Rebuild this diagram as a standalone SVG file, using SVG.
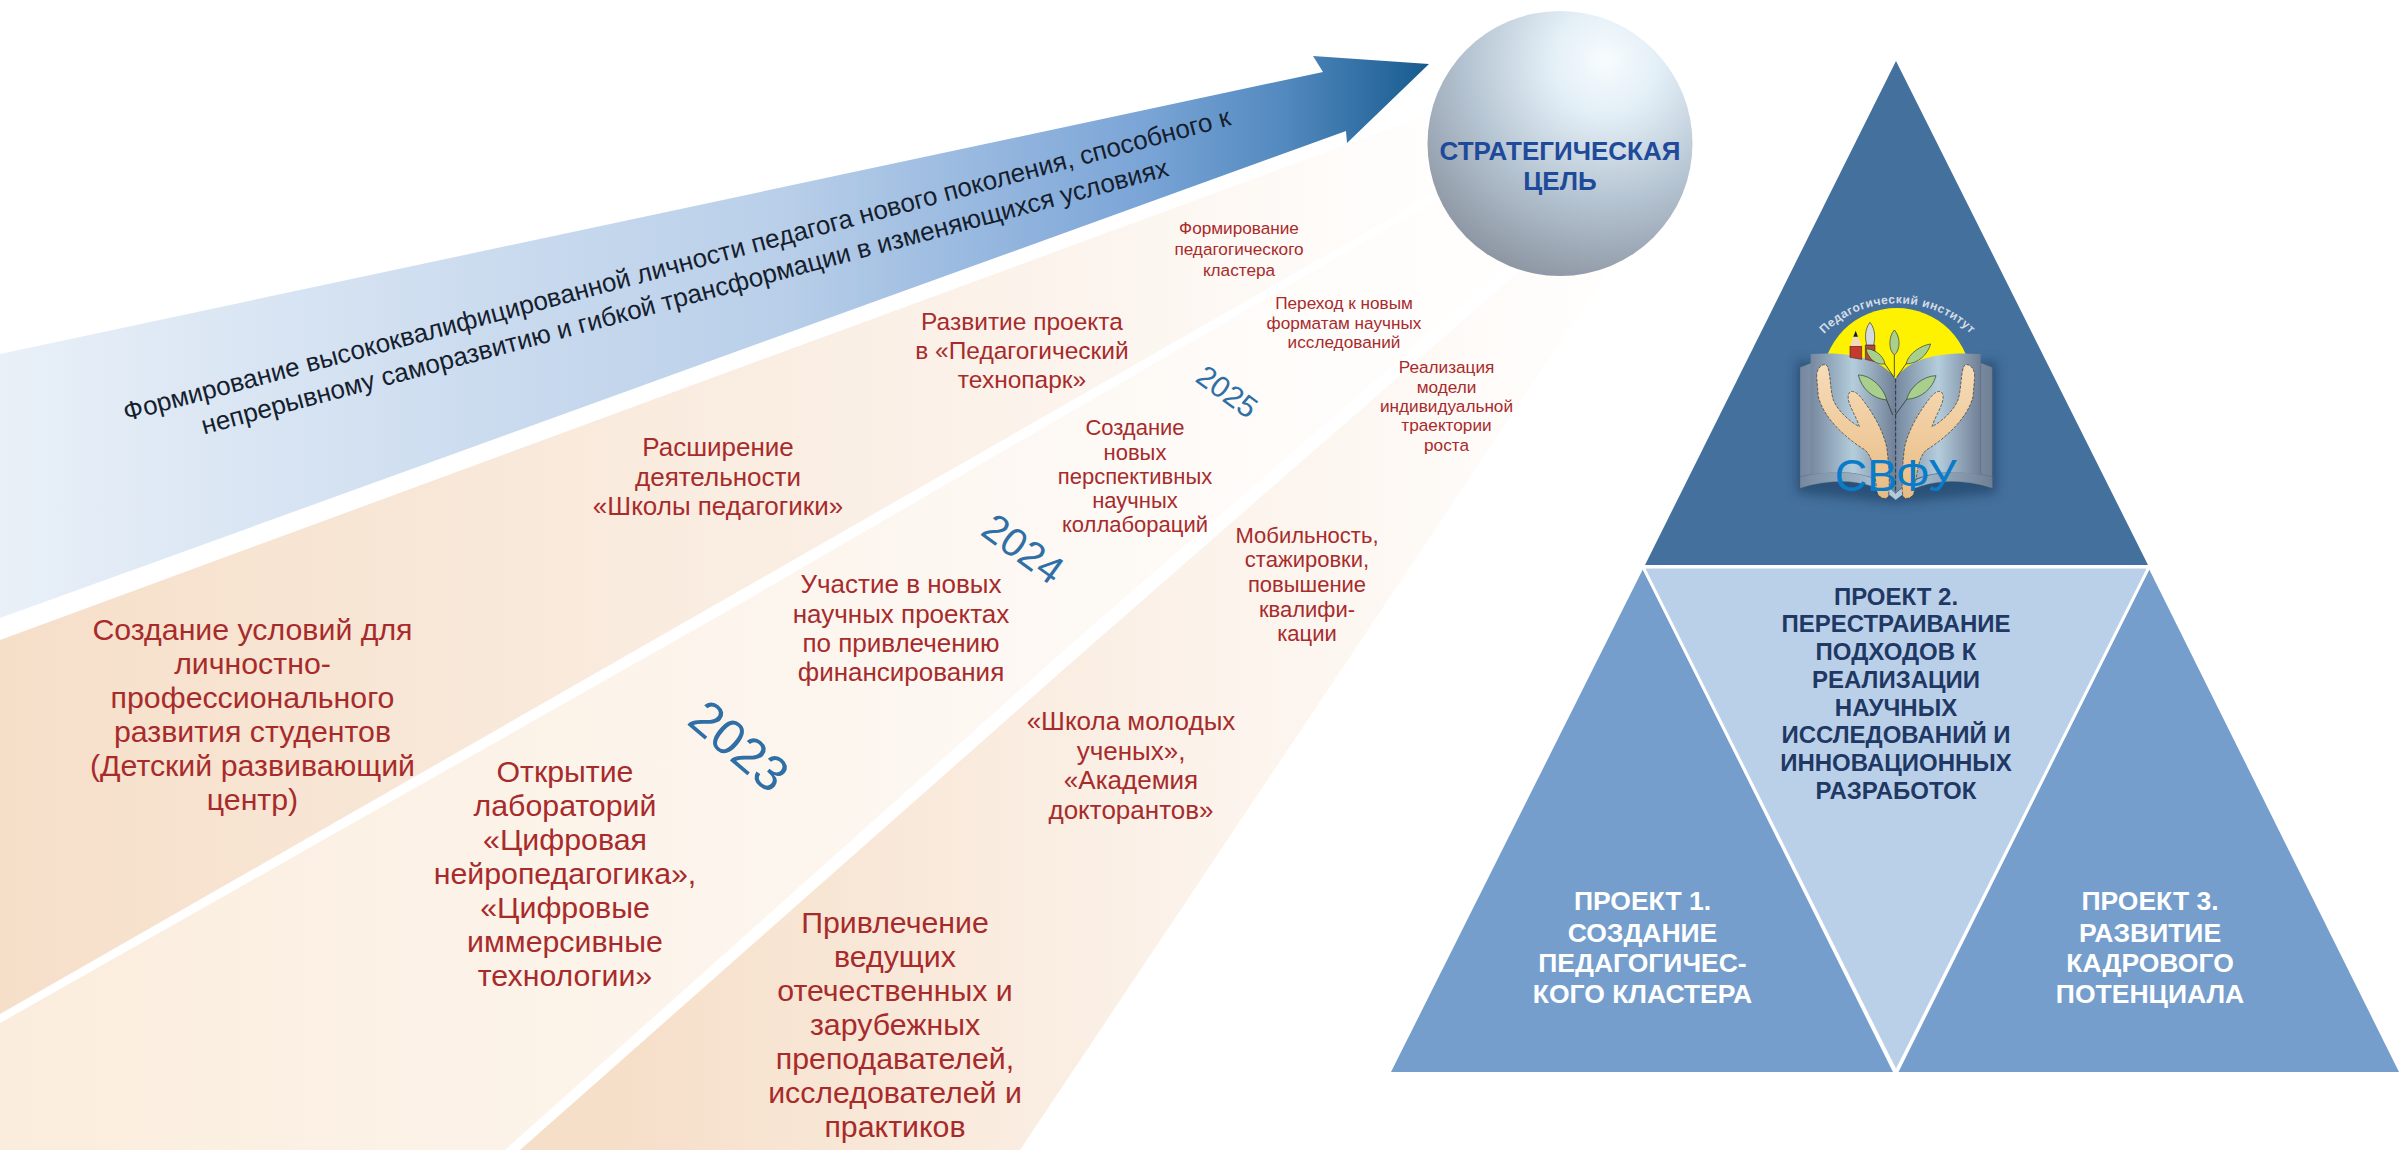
<svg xmlns="http://www.w3.org/2000/svg" width="2399" height="1150" viewBox="0 0 2399 1150">
<style>
text{font-family:"Liberation Sans",Arial,sans-serif;text-anchor:middle}
.r{fill:#a82b2c}
.y{fill:#2f6fa6}
.m{fill:#1f3864;font-weight:700;font-size:24px}
.w{fill:#fff;font-weight:700;font-size:26.5px}
.a{fill:#15202e;font-size:26px}
.leaf{fill:#a9cf8c;stroke:#2e3a33;stroke-width:2}
.hand{fill:url(#hand);stroke:#333;stroke-width:2;stroke-dasharray:9 4}
</style>
<defs>
<linearGradient id="blue" gradientUnits="userSpaceOnUse" x1="0" y1="0" x2="1429" y2="0">
<stop offset="0" stop-color="#e9f0f8"/><stop offset=".55" stop-color="#b9cfe9"/><stop offset=".8" stop-color="#7ba5d7"/><stop offset=".9" stop-color="#5289bf"/><stop offset="1" stop-color="#175b8e"/>
</linearGradient>
<linearGradient id="b1" gradientUnits="userSpaceOnUse" x1="0" y1="0" x2="1430" y2="0">
<stop offset="0" stop-color="#f6dfc9"/><stop offset=".7" stop-color="#fbf2ea"/><stop offset="1" stop-color="#fffefd"/>
</linearGradient>
<linearGradient id="b2" gradientUnits="userSpaceOnUse" x1="0" y1="0" x2="1450" y2="0">
<stop offset="0" stop-color="#fbeddd"/><stop offset=".7" stop-color="#fdf8f3"/><stop offset="1" stop-color="#fffefd"/>
</linearGradient>
<linearGradient id="b3" gradientUnits="userSpaceOnUse" x1="520" y1="0" x2="1580" y2="0">
<stop offset=".1" stop-color="#f6dfc9"/><stop offset=".6" stop-color="#fbf1e8"/><stop offset="1" stop-color="#fffefd"/>
</linearGradient>
<radialGradient id="sph" gradientUnits="userSpaceOnUse" cx="1605" cy="65" r="255" fx="1605" fy="60">
<stop offset="0" stop-color="#f8fcfe"/><stop offset=".22" stop-color="#e2eef6"/><stop offset=".55" stop-color="#b4c3d1"/><stop offset="1" stop-color="#7f8592"/>
</radialGradient>
<linearGradient id="page" x1="0" y1="0" x2="1" y2="0">
<stop offset="0" stop-color="#76889f"/><stop offset=".5" stop-color="#b4cddc"/><stop offset="1" stop-color="#707f95"/>
</linearGradient>
<linearGradient id="hand" x1="0" y1="0" x2="0" y2="1">
<stop offset="0" stop-color="#f6dcb8"/><stop offset="1" stop-color="#e9bb83"/>
</linearGradient>
<filter id="blur" x="-20%" y="-20%" width="140%" height="140%"><feGaussianBlur stdDeviation="16"/></filter>
<clipPath id="sun"><path d="M200 60H740V222L467 296 200 222Z"/></clipPath>
<path id="arc" d="M245 170A309 309 0 0 1 700 170"/>
<g id="lh">
<path class="hand" d="M230 290C228 265 250 245 262 258C272 280 270 330 280 360C295 395 330 425 358 440C350 410 320 370 325 345C330 325 350 335 365 355C395 395 425 440 440 500C448 560 450 620 445 650C435 660 420 655 412 640C405 590 400 530 375 510C310 470 250 410 235 350Z"/>
</g>
</defs>
<rect width="2399" height="1150" fill="#fff"/>

<g id="bands">
<polygon fill="url(#b1)" points="0,640 1424,116 1440,190 0,1014"/>
<polygon fill="url(#b2)" points="0,1023 738,605 1445,195 1520,255 1070,645 505,1150 0,1150"/>
<polygon fill="url(#b3)" points="520,1150 1080,655 1530,262 1612,265 1020,1150"/>
</g>

<g id="arrow"><polygon fill="url(#blue)" points="0,354 1323,72 1313,56 1429,64 1347,143 1346,131 0,618"/></g>

<g id="goal-text">
<text class="a" transform="translate(679,273) rotate(-15)">Формирование высококвалифицированной личности педагога нового поколения, способного к</text>
<text class="a" transform="translate(687,305) rotate(-15)">непрерывному саморазвитию и гибкой трансформации в изменяющихся условиях</text>
</g>

<g id="sphere">
<circle cx="1560" cy="143.5" r="132.5" fill="url(#sph)"/>
<text x="1560" y="160" font-size="26" font-weight="700" fill="#1f4a9a">СТРАТЕГИЧЕСКАЯ</text>
<text x="1560" y="189.5" font-size="26" font-weight="700" fill="#1f4a9a">ЦЕЛЬ</text>
</g>

<g id="years">
<text class="y" font-size="50" transform="translate(728,759) rotate(40)">2023</text>
<text class="y" font-size="40" transform="translate(1015,560) rotate(36)">2024</text>
<text class="y" font-size="30" transform="translate(1221,400) rotate(36)">2025</text>
</g>

<g id="col-2023" class="r" font-size="30.3">
<text x="252.5" y="640">Создание условий для</text><text x="252.5" y="674">личностно-</text><text x="252.5" y="708">профессионального</text><text x="252.5" y="742">развития студентов</text><text x="252.5" y="776">(Детский развивающий</text><text x="252.5" y="810">центр)</text>
<text x="565" y="782">Открытие</text><text x="565" y="816">лабораторий</text><text x="565" y="850">«Цифровая</text><text x="565" y="884">нейропедагогика»,</text><text x="565" y="918">«Цифровые</text><text x="565" y="952">иммерсивные</text><text x="565" y="986">технологии»</text>
<text x="895" y="933">Привлечение</text><text x="895" y="967">ведущих</text><text x="895" y="1001">отечественных и</text><text x="895" y="1035">зарубежных</text><text x="895" y="1069">преподавателей,</text><text x="895" y="1103">исследователей и</text><text x="895" y="1137">практиков</text>
</g>
<g id="col-2024" class="r" font-size="26">
<text x="718" y="456">Расширение</text><text x="718" y="486">деятельности</text><text x="718" y="515">«Школы педагогики»</text>
<text x="901" y="593">Участие в новых</text><text x="901" y="623">научных проектах</text><text x="901" y="652">по привлечению</text><text x="901" y="681">финансирования</text>
<text x="1131" y="730">«Школа молодых</text><text x="1131" y="759.5">ученых»,</text><text x="1131" y="789">«Академия</text><text x="1131" y="818.5">докторантов»</text>
</g>
<g id="col-2025a" class="r" font-size="22">
<text x="1022" y="330" font-size="24.5">Развитие проекта</text><text x="1022" y="359" font-size="24.5">в «Педагогический</text><text x="1022" y="388" font-size="24.5">технопарк»</text>
<text x="1135" y="435">Создание</text><text x="1135" y="460">новых</text><text x="1135" y="484">перспективных</text><text x="1135" y="508">научных</text><text x="1135" y="532">коллабораций</text>
<text x="1307" y="543">Мобильность,</text><text x="1307" y="567">стажировки,</text><text x="1307" y="592">повышение</text><text x="1307" y="616.5">квалифи-</text><text x="1307" y="640.5">кации</text>
</g>
<g id="col-2025b" class="r" font-size="17.2">
<text x="1239" y="234">Формирование</text><text x="1239" y="255">педагогического</text><text x="1239" y="276">кластера</text>
<text x="1344" y="309">Переход к новым</text><text x="1344" y="329">форматам научных</text><text x="1344" y="348">исследований</text>
<text x="1446.5" y="373">Реализация</text><text x="1446.5" y="392.6">модели</text><text x="1446.5" y="411.7">индивидуальной</text><text x="1446.5" y="431">траектории</text><text x="1446.5" y="450.7">роста</text>
</g>

<g id="apex"><polygon fill="#44709d" points="1896,61 2148,565 1645,565"/></g>

<g id="logo" transform="translate(1740,280) scale(.33333)">
<path fill="#24476c" opacity=".75" filter="url(#blur)" d="M170 240L467 290 770 240V640L467 670 170 640Z"/>
<circle cx="470" cy="308" r="224" fill="#fff200" clip-path="url(#sun)"/>
<path fill="url(#page)" stroke="#4a5a70" d="M180 262L215 248V590L180 625ZM757 262L722 248V590L757 625Z"/>
<path fill="url(#page)" stroke="#4a5a70" d="M180 625C290 590 400 600 467 660C540 600 650 590 757 625V590C650 565 540 570 467 640C400 570 290 565 180 590Z"/>
<path fill="url(#page)" d="M212 222C320 215 420 230 467 296V640C400 570 300 570 212 585Z"/>
<path fill="url(#page)" d="M722 222C610 215 510 230 467 296V640C530 570 640 570 722 585Z"/>
<path fill="none" stroke="#2c3440" stroke-width="3" stroke-dasharray="12 6" d="M467 296V640"/>
<path fill="#c53a2c" stroke="#4c2a20" stroke-width="2" d="M330 198H365V238L330 232Z"/>
<path fill="#f2dbb9" d="M330 198L347 152 365 198Z"/>
<path fill="#1c1c1c" d="M340 170L347 152 354 170Z"/>
<path fill="#b24a38" stroke="#4c2a20" stroke-width="2" d="M376 195H405V245L376 238Z"/>
<path fill="#d4dbdf" stroke="#333" stroke-width="2" d="M390 127C372 150 376 178 380 195H401C405 178 408 150 390 127Z"/>
<path fill="none" stroke="#2c3a30" stroke-width="2.5" d="M463 225V290M435 252L462 292M498 252L470 292M440 360L458 405M500 358L466 405"/>
<path class="leaf" d="M463 150C445 170 445 210 463 225C482 210 482 170 463 150Z"/>
<path class="leaf" d="M378 207C400 205 430 225 435 252C405 255 385 235 378 207Z"/>
<path class="leaf" d="M572 192C545 195 505 220 498 252C535 250 562 225 572 192Z"/>
<path class="leaf" d="M355 285C390 285 430 320 440 360C395 355 365 325 355 285Z"/>
<path class="leaf" d="M588 287C550 288 510 320 500 358C545 355 578 325 588 287Z"/>
<use href="#lh"/>
<use href="#lh" transform="translate(934,0) scale(-1,1)"/>
<text font-size="36" font-weight="700" fill="#d5dce5" letter-spacing="1.5"><textPath href="#arc" startOffset="50%">Педагогический институт</textPath></text>
<text x="467" y="632" font-size="135" fill="#0a7bc8">СВФУ</text>
</g>

<g id="project-1">
<polygon fill="#759ecd" points="1643,569 1893,1072 1391,1072"/>
<text class="w" x="1642.5" y="910">ПРОЕКТ 1.</text><text class="w" x="1642.5" y="942">СОЗДАНИЕ</text><text class="w" x="1642.5" y="972">ПЕДАГОГИЧЕС-</text><text class="w" x="1642.5" y="1002.5">КОГО КЛАСТЕРА</text>
</g>
<g id="project-3">
<polygon fill="#759ecd" points="2149,569 2399,1072 1898.5,1072"/>
<text class="w" x="2150" y="910">ПРОЕКТ 3.</text><text class="w" x="2150" y="942">РАЗВИТИЕ</text><text class="w" x="2150" y="972">КАДРОВОГО</text><text class="w" x="2150" y="1002.5">ПОТЕНЦИАЛА</text>
</g>
<g id="project-2">
<polygon fill="#bad0e9" stroke="#fff" stroke-width="3" points="1643,567 2149,567 1896,1072"/>
<text class="m" x="1896" y="604.6">ПРОЕКТ 2.</text><text class="m" x="1896" y="632.4">ПЕРЕСТРАИВАНИЕ</text><text class="m" x="1896" y="660.1">ПОДХОДОВ К</text><text class="m" x="1896" y="687.9">РЕАЛИЗАЦИИ</text><text class="m" x="1896" y="715.6">НАУЧНЫХ</text><text class="m" x="1896" y="743.4">ИССЛЕДОВАНИЙ И</text><text class="m" x="1896" y="771.1">ИННОВАЦИОННЫХ</text><text class="m" x="1896" y="798.9">РАЗРАБОТОК</text>
</g>
</svg>
